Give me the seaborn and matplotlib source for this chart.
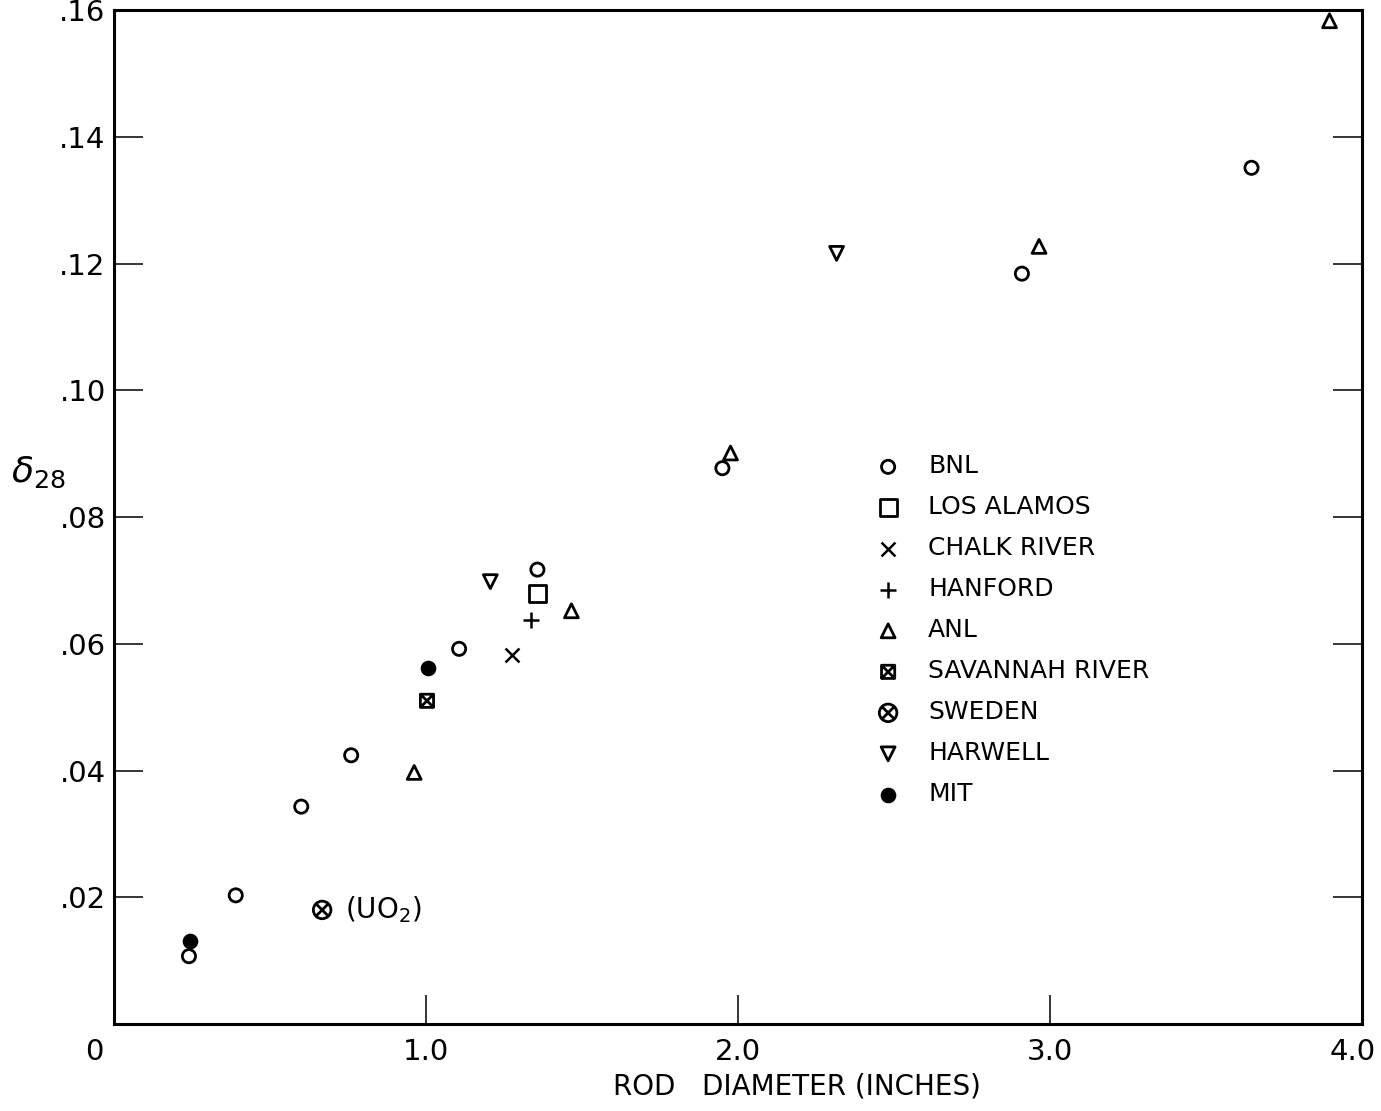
import numpy as np
import pandas as pd
import matplotlib
matplotlib.use("Agg")
import matplotlib.pyplot as plt
from matplotlib.path import Path
import seaborn as sns

# values (rod diameter in inches, delta_28)
bnl_x = [0.24, 0.39, 0.60, 0.76, 1.106, 1.357, 1.95, 2.91, 3.646]
bnl_y = [0.0107, 0.0203, 0.0343, 0.0424, 0.0592, 0.0717, 0.0877, 0.1184, 0.1351]
losalamos_x = [1.357]
losalamos_y = [0.0680]
chalk_x = [1.276]
chalk_y = [0.0583]
hanford_x = [1.337]
hanford_y = [0.0638]
anl_x = [0.962, 1.466, 1.976, 2.965, 3.896]
anl_y = [0.0397, 0.0652, 0.0901, 0.1227, 0.1583]
savannah_x = [1.003]
savannah_y = [0.0510]
sweden_x = [0.667]
sweden_y = [0.0180]
harwell_x = [1.206, 2.316]
harwell_y = [0.0698, 0.1216]
mit_x = [0.242, 1.006]
mit_y = [0.0131, 0.0562]

y_ticks = [0.02, 0.04, 0.06, 0.08, 0.10, 0.12, 0.14, 0.16]
y_labels = [".02", ".04", ".06", ".08", ".10", ".12", ".14", ".16"]
x_ticks = [1.0, 2.0, 3.0]
x_labels = ["1.0", "2.0", "3.0"]

M, L, C = Path.MOVETO, Path.LINETO, Path.CLOSEPOLY
box_x = Path([(-1, -1), (1, -1), (1, 1), (-1, 1), (-1, -1),
              (-1, -1), (1, 1), (-1, 1), (1, -1)],
             [M, L, L, L, C, M, L, M, L])
d = 0.707
circ_x = Path.make_compound_path(
    Path.unit_circle(),
    Path([(-d, -d), (d, d), (-d, d), (d, -d)], [M, L, M, L]))

groups = [
    ("BNL", bnl_x, bnl_y, "o", 90, False),
    ("LOS ALAMOS", losalamos_x, losalamos_y, "s", 150, False),
    ("CHALK RIVER", chalk_x, chalk_y, "x", 100, None),
    ("HANFORD", hanford_x, hanford_y, "+", 130, None),
    ("ANL", anl_x, anl_y, "^", 100, False),
    ("SAVANNAH RIVER", savannah_x, savannah_y, box_x, 90, False),
    ("SWEDEN", sweden_x, sweden_y, circ_x, 160, False),
    ("HARWELL", harwell_x, harwell_y, "v", 100, False),
    ("MIT", mit_x, mit_y, "o", 105, True),
]

sns.set_theme(style="ticks")
plt.rcParams["font.family"] = ["DejaVu Sans"]
plt.rcParams["mathtext.fontset"] = "dejavusans"

fig = plt.figure(figsize=(13.81, 11.11), dpi=100)
ax = fig.add_axes([0.0826, 0.0783, 0.9036, 0.9127])

for name, xs, ys, mk, size, filled in groups:
    df = pd.DataFrame({"x": xs, "y": ys})
    if filled is None:
        kw = dict(color="black", linewidth=1.8)
    elif filled:
        kw = dict(color="black", edgecolor="black", linewidth=1.0)
    else:
        kw = dict(color="black", facecolor="none", edgecolor="black", linewidth=2.0)
    sns.scatterplot(data=df, x="x", y="y", marker=mk, s=size, label=name, ax=ax, **kw)

ax.set_xlim(0, 4.0)
ax.set_ylim(0, 0.16)
ax.set_xticks(x_ticks)
ax.set_xticklabels(x_labels)
ax.set_yticks(y_ticks)
ax.set_yticklabels(y_labels)
ax.tick_params(axis="y", direction="in", length=21, width=1.1, left=True, right=True,
               labelsize=21, pad=6, colors="black")
ax.tick_params(axis="x", direction="in", length=21, width=1.1, top=False,
               labelsize=21, pad=10, colors="black")
for sp in ax.spines.values():
    sp.set_linewidth(2.2)
    sp.set_color("black")
    sp.set_visible(True)

# end labels of the x axis sit a little off their positions in the original
ax.annotate("0", xy=(-0.063, 0), xycoords=("data", "axes fraction"),
            xytext=(0, -10), textcoords="offset points",
            ha="center", va="top", fontsize=21, color="black")
ax.annotate("4.0", xy=(3.97, 0), xycoords=("data", "axes fraction"),
            xytext=(0, -10), textcoords="offset points",
            ha="center", va="top", fontsize=21, color="black")
ax.set_xlabel("ROD   DIAMETER (INCHES)", fontsize=20, color="black")
ax.xaxis.set_label_coords(0.547, -0.048)
ax.set_ylabel("")
fig.text(0.028, 0.575, r"$\delta_{28}$", fontsize=26, ha="center", va="center", color="black")

ax.text(0.74, 0.0180, r"(UO$_2$)", fontsize=20, ha="left", va="center", color="black")

leg = ax.legend(loc="upper left", bbox_to_anchor=(0.625, 0.6), bbox_transform=fig.transFigure,
                frameon=False, fontsize=18, markerscale=1.0, labelspacing=0.68,
                handlelength=1.2, handletextpad=1.0, borderaxespad=0)
for t in leg.get_texts():
    t.set_color("black")

fig.savefig("out.png", dpi=100)
